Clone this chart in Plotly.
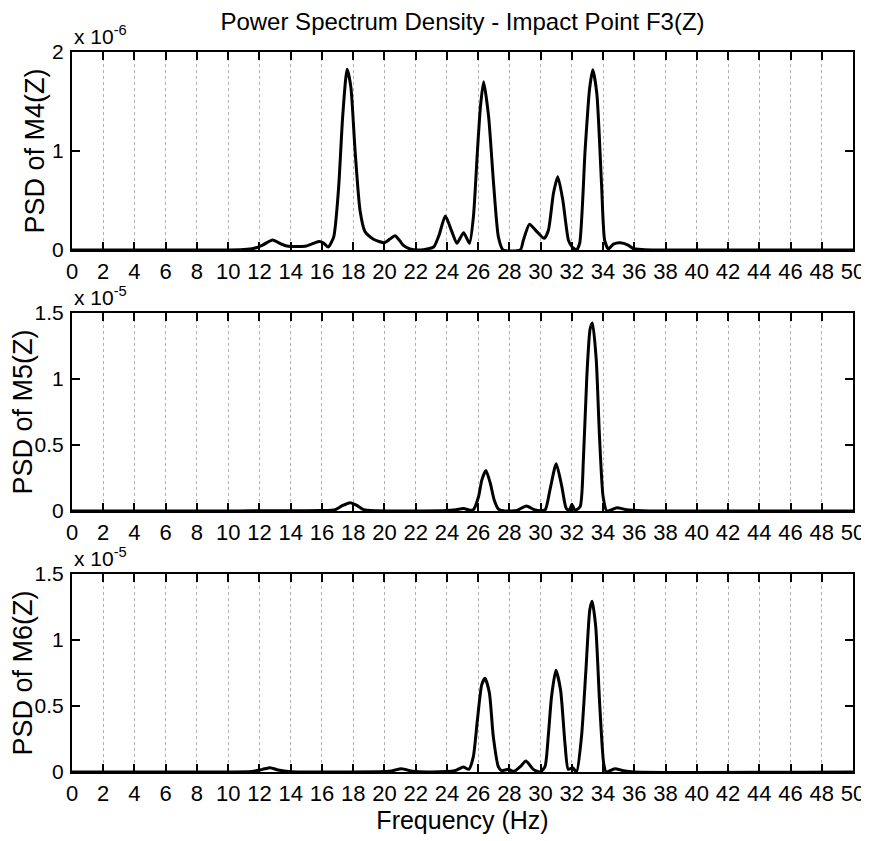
import plotly.graph_objects as go
from plotly.subplots import make_subplots

# frequency (Hz) and PSD values
# M4 values in units of 1e-6, M5 / M6 in units of 1e-5
freq_m4 = [0, 9.5, 11.0, 11.6, 12.2, 12.84, 13.4, 13.75, 14.5, 15.0, 15.5, 15.84, 16.1, 16.4,
           16.75, 17.06, 17.33, 17.61, 17.85, 18.12, 18.44, 18.76, 19.3, 20.0, 20.35, 20.68,
           21.0, 21.2, 21.64, 22.3, 23.15, 23.5, 23.9, 24.32, 24.64, 24.85, 25.07, 25.3, 25.45,
           25.7, 25.96, 26.15, 26.35, 26.67, 26.99, 27.3, 27.6, 28.7, 28.9, 29.29, 29.76, 30.23,
           30.5, 30.82, 31.1, 31.42, 31.78, 32.0, 32.3, 32.5, 32.85, 33.13, 33.34, 33.6, 33.9,
           34.1, 34.34, 34.66, 35.1, 35.6, 35.9, 36.5, 37.5, 50]
psd_m4 = [0, 0, 0.005, 0.015, 0.05, 0.10, 0.06, 0.04, 0.035, 0.04, 0.07, 0.085, 0.07, 0.03,
          0.13, 0.61, 1.35, 1.825, 1.65, 1.01, 0.40, 0.185, 0.108, 0.074, 0.11, 0.145,
          0.09, 0.05, 0.01, 0, 0.03, 0.15, 0.343, 0.185, 0.067, 0.12, 0.175, 0.11, 0.067,
          0.337, 1.01, 1.45, 1.70, 1.35, 0.67, 0.13, 0, 0, 0.1, 0.26, 0.185, 0.118,
          0.2, 0.57, 0.74, 0.505, 0.1, 0.034, 0, 0.067, 1.01, 1.62, 1.82, 1.58, 0.67,
          0.1, 0.01, 0.06, 0.074, 0.05, 0.017, 0.005, 0, 0]

freq_m5 = [0, 10, 11.5, 13.5, 16.0, 16.86, 17.3, 17.82, 18.2, 18.67, 19.5, 22, 24.0, 24.6,
           25.07, 25.5, 25.7, 26.03, 26.24, 26.5, 26.78, 27.03, 27.3, 27.7, 28.5, 29.08, 29.6,
           30.0, 30.3, 30.6, 31.0, 31.36, 31.64, 31.85, 32.0, 32.2, 32.53, 32.74, 32.96, 33.17,
           33.32, 33.56, 33.77, 34.0, 34.24, 34.88, 35.5, 36.5, 38, 50]
psd_m5 = [0, 0, 0.002, 0.002, 0.003, 0.01, 0.04, 0.063, 0.045, 0.01, 0.002, 0, 0.003, 0.01,
          0.018, 0.005, 0.01, 0.11, 0.236, 0.307, 0.21, 0.084, 0.015, 0, 0.005, 0.038, 0.01,
          0.002, 0.01, 0.16, 0.358, 0.185, 0.02, 0.005, 0.05, 0.005, 0.033, 0.39, 1.02, 1.38,
          1.424, 1.15, 0.566, 0.11, 0, 0.025, 0.01, 0.002, 0, 0]

freq_m6 = [0, 10, 11.5, 12.2, 12.69, 13.2, 14, 16, 20.3, 21.1, 21.8, 23, 24.5, 25.05, 25.4,
           25.69, 25.95, 26.23, 26.44, 26.72, 26.97, 27.3, 27.5, 27.93, 28.3, 28.7, 29.06,
           29.53, 29.96, 30.28, 30.49, 30.7, 30.98, 31.28, 31.56, 31.77, 32.05, 32.3, 32.62,
           32.9, 33.15, 33.3, 33.53, 33.78, 34.04, 34.2, 34.75, 35.3, 36, 50]
psd_m6 = [0, 0, 0.003, 0.02, 0.033, 0.015, 0.002, 0, 0.005, 0.025, 0.005, 0, 0.01, 0.038, 0.02,
          0.114, 0.39, 0.66, 0.71, 0.6, 0.27, 0.038, 0.01, 0.02, 0.005, 0.04, 0.084,
          0.02, 0, 0.04, 0.27, 0.57, 0.77, 0.62, 0.216, 0.02, 0.033, 0, 0.27,
          0.77, 1.23, 1.294, 1.10, 0.52, 0.063, 0, 0.025, 0.01, 0, 0]

x_ticks = list(range(0, 51, 2))
panels = [
    (freq_m4, psd_m4, 'PSD of M4(Z)', [0, 1, 2], ['0', '1', '2'], 2, '-6'),
    (freq_m5, psd_m5, 'PSD of M5(Z)', [0, 0.5, 1, 1.5], ['0', '0.5', '1', '1.5'], 1.5, '-5'),
    (freq_m6, psd_m6, 'PSD of M6(Z)', [0, 0.5, 1, 1.5], ['0', '0.5', '1', '1.5'], 1.5, '-5'),
]
domains = [[0.725, 1.0], [0.3625, 0.6375], [0.0, 0.275]]

FONT = 'Liberation Sans, Arial, sans-serif'
# the page body adds an 8px margin, so the figure is 8px smaller than the window
W, H = 861, 833

fig = make_subplots(rows=3, cols=1)

for i, (fx, fy, ytitle, yt, ytt, ymax, expo) in enumerate(panels, start=1):
    fig.add_trace(go.Scatter(x=fx, y=fy, mode='lines',
                             line=dict(color='black', width=3, shape='spline', smoothing=0.6),
                             showlegend=False, hoverinfo='skip'), row=i, col=1)
    fig.update_xaxes(range=[0, 50], tickvals=x_ticks, ticks='inside', ticklen=8, tickwidth=2,
                     tickcolor='black', showline=True, linewidth=2, linecolor='black',
                     mirror='allticks', showgrid=True, gridcolor='#b0b0b0', gridwidth=1,
                     griddash='dot', zeroline=False, automargin=False, ticklabelstandoff=1,
                     tickfont=dict(family=FONT, size=22, color='black'), row=i, col=1)
    fig.update_yaxes(range=[0, ymax], tickvals=yt, ticktext=ytt, ticks='inside', ticklen=8,
                     tickwidth=2, tickcolor='black', showline=True, linewidth=2,
                     linecolor='black', mirror='allticks', showgrid=False, zeroline=False,
                     domain=domains[i - 1], automargin=False, ticklabelstandoff=2,
                     title=dict(text=ytitle, standoff=0,
                                font=dict(family=FONT, size=27, color='black')),
                     tickfont=dict(family=FONT, size=21, color='black'), row=i, col=1)
    # MATLAB style exponent label above the axes
    fig.add_annotation(text=f'x 10<sup>{expo}</sup>', xref='paper', yref='paper',
                       x=0, y=domains[i - 1][1], xanchor='left', yanchor='bottom',
                       yshift=2, showarrow=False,
                       font=dict(family=FONT, size=21, color='black'))

fig.update_xaxes(title=dict(text='Frequency (Hz)', standoff=2,
                            font=dict(family=FONT, size=25, color='black')), row=3, col=1)

fig.update_layout(
    width=W, height=H,
    margin=dict(l=64, r=16, t=44, b=69),
    paper_bgcolor='white', plot_bgcolor='white',
    title=dict(text='Power Spectrum Density - Impact Point F3(Z)', x=0.5, xref='paper',
               y=1 - 13.5 / H, yanchor='middle', automargin=False,
               font=dict(family=FONT, size=24, color='black')),
)

fig.write_html("out.html")
